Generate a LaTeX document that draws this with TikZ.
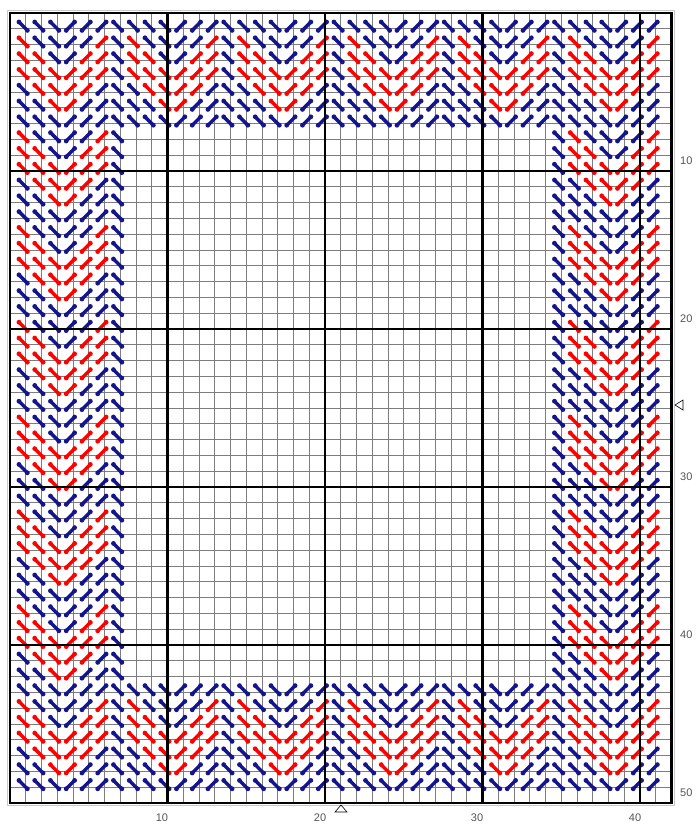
\documentclass[tikz,border=0pt]{standalone}
\usepackage{fontspec}
\setmainfont{Liberation Sans}
\definecolor{sblue}{RGB}{20,20,140}
\definecolor{sred}{RGB}{255,0,0}
\definecolor{gridgray}{RGB}{125,125,125}
\definecolor{framegray}{RGB}{200,200,200}
\definecolor{labgray}{RGB}{85,85,85}
\begin{document}
\begin{tikzpicture}[x=1pt,y=-1pt,
  thingrid/.style={gridgray, line width=0.9pt},
  thickgrid/.style={black, line width=2.4pt},
  stitch/.style={line width=3.4pt, line cap=round},
  knob/.style={radius=2.4pt},
  lab/.style={font=\fontsize{11}{13}\selectfont, text=labgray, inner sep=0pt},
  marker/.style={draw=black, line width=0.6pt, fill=white}]
\useasboundingbox (0,0) rectangle (697,825);
\fill[white] (0,0) rectangle (697,825);
% outer light frame
\draw[framegray, line width=0.8pt] (7.5,10) rectangle (674,805.5);
% thin grid
\foreach \i in {0,...,42} \draw[thingrid] ({10+15.75*\i},13) -- ({10+15.75*\i},803);
\foreach \j in {0,...,50} \draw[thingrid] (10,{13+15.8*\j}) -- (671.5,{13+15.8*\j});
% stitches
\foreach \i in {1,...,41}{
  \foreach \j in {1,...,49}{
    \pgfmathtruncatemacro{\inb}{((\i<8)||(\i>34)||(\j<8)||(\j>42)) ? 1 : 0}
    \ifnum\inb=1
      \pgfmathtruncatemacro{\m}{mod(\i,7)}
      \pgfmathtruncatemacro{\s}{(\m==0) ? 0 : ((\m<4) ? (\m-1) : (6-\m))}
      \pgfmathtruncatemacro{\rr}{mod(\j-\s+60,6)}
      \pgfmathtruncatemacro{\isred}{((\m>0)&&(\rr>1)&&(\rr<5)) ? 1 : 0}
      \pgfmathtruncatemacro{\dir}{(\m>3) ? 1 : 0}
      \pgfmathsetmacro{\cx}{10+15.75*\i-2.6}
      \pgfmathsetmacro{\cy}{13+15.8*\j-2.6}
      \pgfmathsetmacro{\dy}{\dir==0 ? 4.2 : -4.2}
      \ifnum\isred=1 \def\col{sred}\else\def\col{sblue}\fi
      \draw[stitch,\col] ({\cx-4.2},{\cy-\dy}) -- ({\cx+4.2},{\cy+\dy});
      \fill[\col] ({\cx-4.2},{\cy-\dy}) circle[knob] ({\cx+4.2},{\cy+\dy}) circle[knob];
    \fi
  }
}
% thick grid
\foreach \i in {10,20,30,40} \draw[thickgrid] ({10+15.75*\i},13) -- ({10+15.75*\i},803);
\foreach \j in {10,20,30,40} \draw[thickgrid] (10,{13+15.8*\j}) -- (671.5,{13+15.8*\j});
\draw[thickgrid] (10,13) rectangle (671.5,803);
% labels
\node[lab] (x10) at (162,818) {10};
\node[lab] (x20) at (320,818) {20};
\node[lab] (x30) at (477,818) {30};
\node[lab] (x40) at (635,818) {40};
\node[lab,anchor=west] (y10) at (680,161) {10};
\node[lab,anchor=west] (y20) at (680,319) {20};
\node[lab,anchor=west] (y30) at (680,477) {30};
\node[lab,anchor=west] (y40) at (680,635) {40};
\node[lab,anchor=west] (y50) at (680,793) {50};
% centre markers
\draw[marker] (341,805) -- (347,812) -- (335,812) -- cycle;
\draw[marker] (675,405) -- (683,400) -- (683,410) -- cycle;
\end{tikzpicture}
\end{document}
